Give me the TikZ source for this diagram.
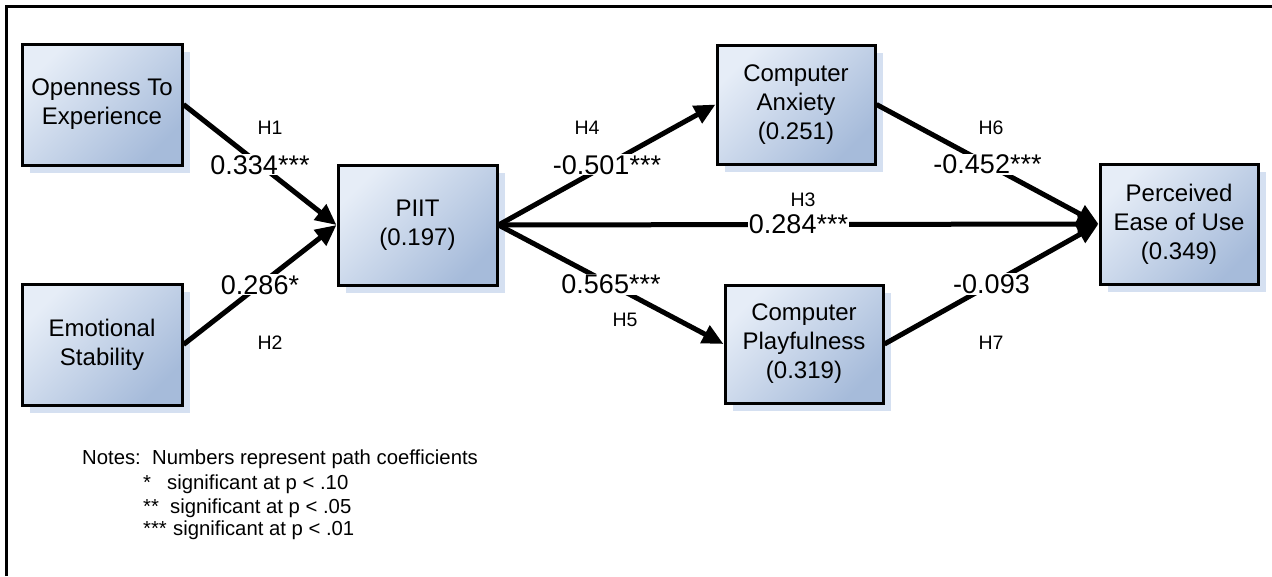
\documentclass[tikz,border=0pt]{standalone}
\usepackage{fontspec}
\setmainfont{Liberation Sans}
\usetikzlibrary{arrows.meta,shadows}
\definecolor{boxlight}{HTML}{E6EDF7}
\definecolor{boxdark}{HTML}{A6BBDA}
\definecolor{shadowblue}{HTML}{D5E0F1}
\tikzset{
  construct/.style={draw=black, line width=3pt, top color=boxlight, bottom color=boxdark,
    shading angle=45, align=center, inner sep=0pt,
    font=\fontsize{24}{29}\selectfont,
    drop shadow={shadow xshift=8pt, shadow yshift=-8pt, fill=shadowblue, opacity=1}},
  path/.style={line width=5pt, -{Triangle[length=21pt,width=19pt]}},
  coef/.style={fill=white, inner sep=1pt, font=\fontsize{27}{32}\selectfont},
  hyp/.style={font=\fontsize{19.5}{23}\selectfont},
  notetext/.style={anchor=base west, inner sep=0pt, font=\fontsize{20.3}{24}\selectfont}
}
\begin{document}
\begin{tikzpicture}[x=1pt,y=-1pt]
\useasboundingbox (0,0) rectangle (1272,576);
\draw[line width=3pt] (6,576) -- (6,6) -- (1272,6);

\node[construct, minimum width=160pt, minimum height=121pt] (open) at (102,104.5) {Openness To\\Experience};
\node[construct, minimum width=160pt, minimum height=121pt] (emot) at (102,344.5) {Emotional\\Stability};
\node[construct, minimum width=159pt, minimum height=120pt] (piit) at (417.5,225) {PIIT\\(0.197)};
\node[construct, minimum width=158pt, minimum height=119pt] (anx) at (796,104.5) {Computer\\Anxiety\\(0.251)};
\node[construct, minimum width=158pt, minimum height=118pt] (play) at (804,344) {Computer\\Playfulness\\(0.319)};
\node[construct, minimum width=158pt, minimum height=120pt] (peou) at (1179,224) {Perceived\\Ease of Use\\(0.349)};

\draw[path] (open.east) -- node[coef] (c1) {0.334***} (piit.west);
\draw[path] (emot.east) -- node[coef] (c2) {0.286*} (piit.west);
\draw[path] (piit.east) -- node[coef] (c4) {-0.501***} (anx.west);
\draw[path] (piit.east) -- node[coef] (c3) {0.284***} (peou.west);
\draw[path] (piit.east) -- node[coef] (c5) {0.565***} (play.west);
\draw[path] (anx.east) -- node[coef] (c6) {-0.452***} (peou.west);
\draw[path] (play.east) -- node[coef] (c7) {-0.093} (peou.west);

\node[hyp] (h1) at (270,128) {H1};
\node[hyp] (h2) at (270,343) {H2};
\node[hyp] (h3) at (803,200) {H3};
\node[hyp] (h4) at (587,128) {H4};
\node[hyp] (h5) at (625,320) {H5};
\node[hyp] (h6) at (991,128) {H6};
\node[hyp] (h7) at (991,343) {H7};

\node[notetext] (n0) at (82,464) {Notes:\ \ Numbers represent path coefficients};
\node[notetext] (n1) at (143,489) {\makebox[24pt][l]{*}significant at p < .10};
\node[notetext] (n2) at (143,513) {\makebox[27pt][l]{**}significant at p < .05};
\node[notetext] (n3) at (143,535) {\makebox[30pt][l]{***}significant at p < .01};
\end{tikzpicture}
\end{document}
